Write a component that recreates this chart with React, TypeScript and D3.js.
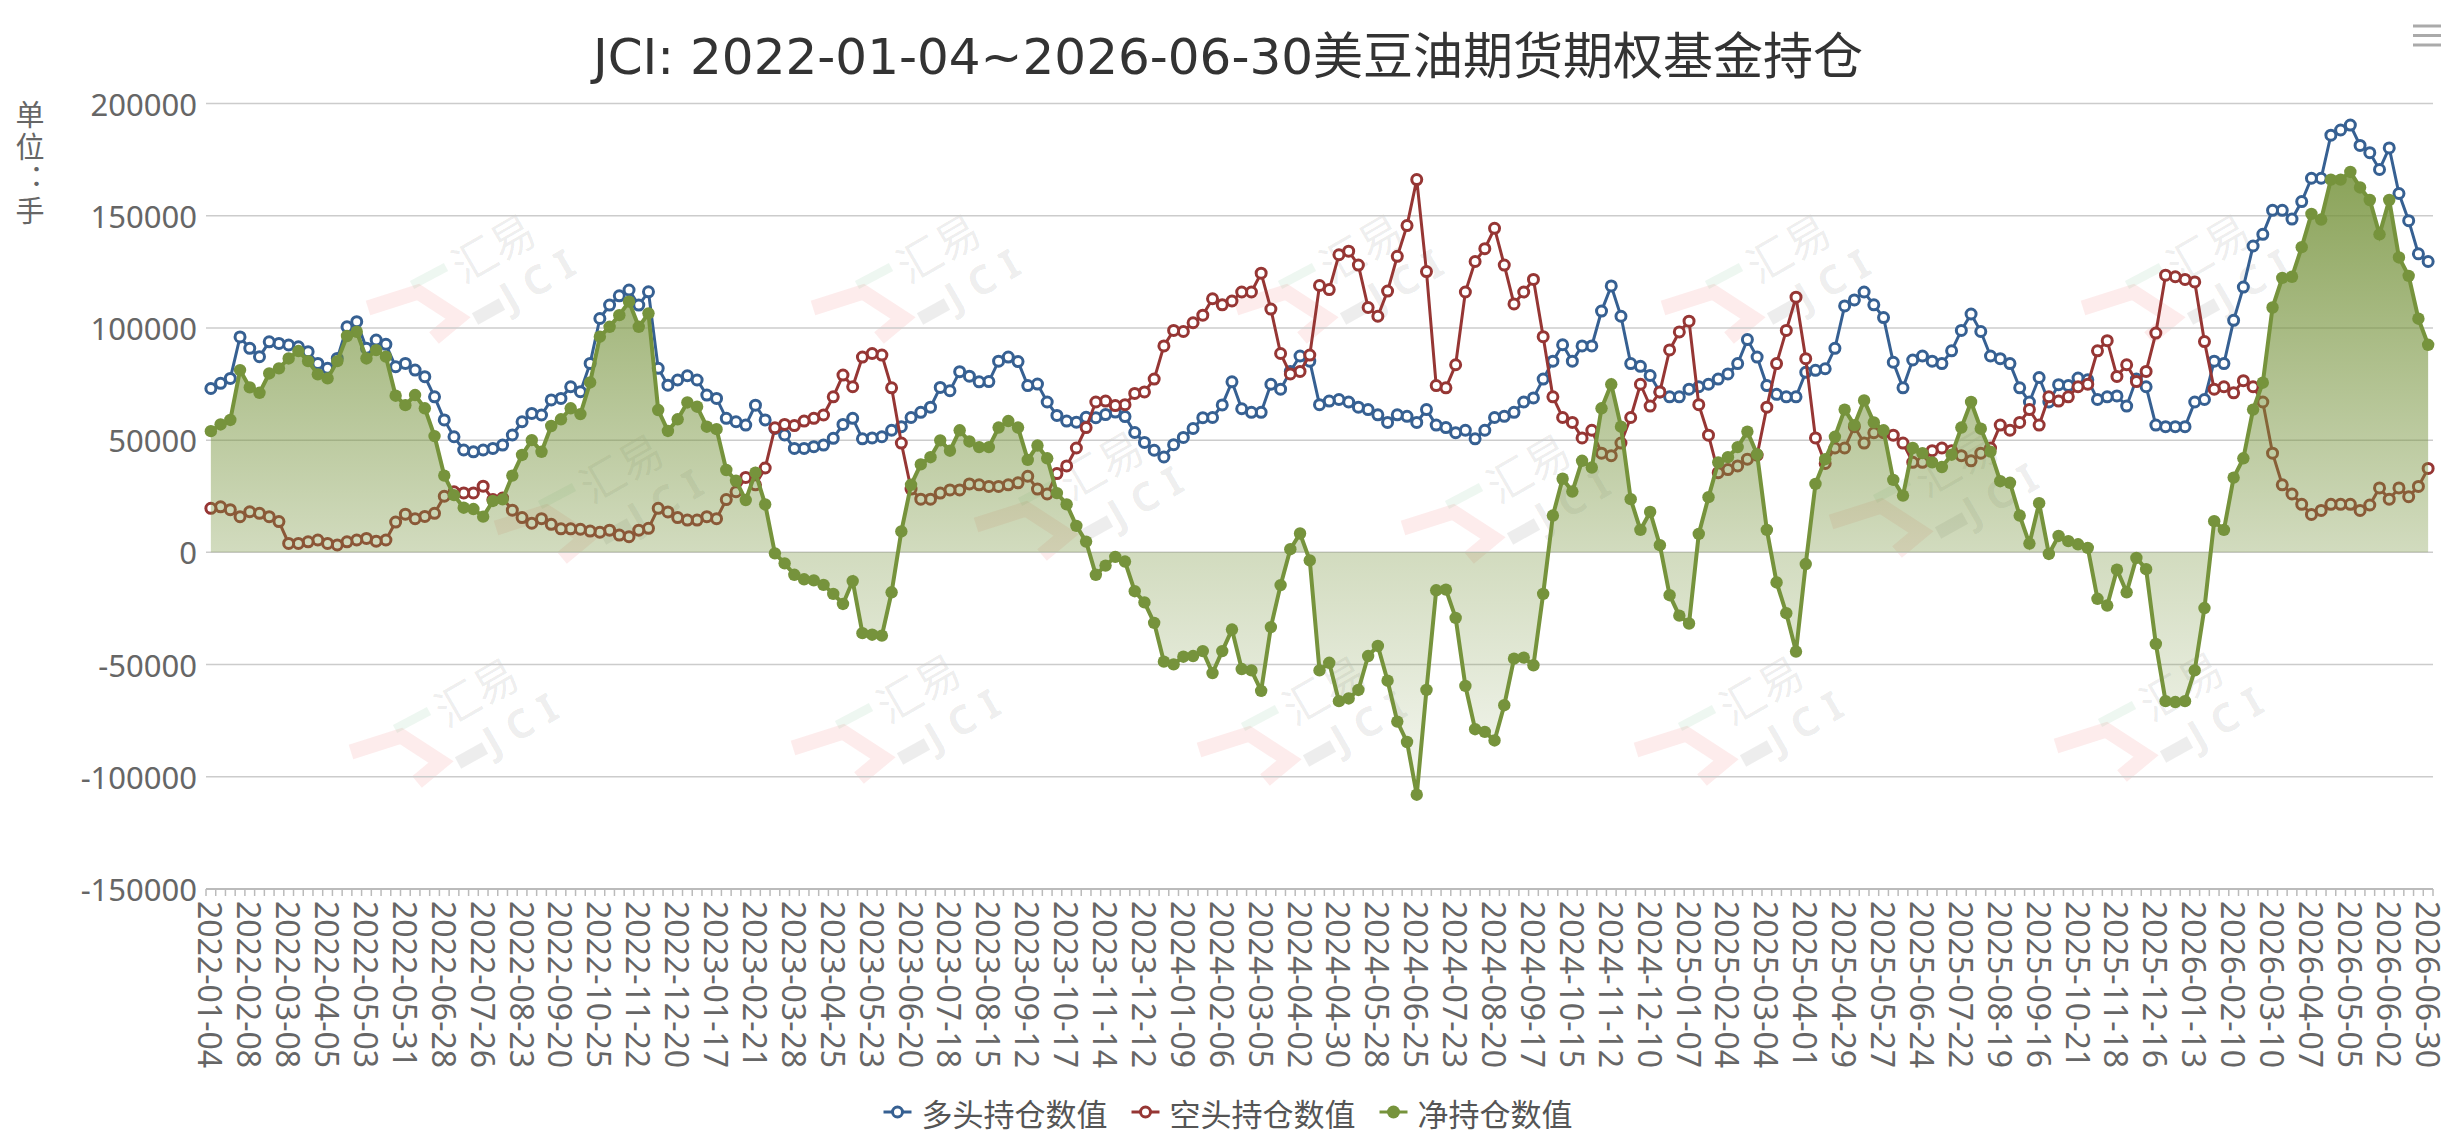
import { useEffect, useRef } from "react"
import * as d3 from "d3"

// axis labels, one every 4 weekly categories
const tickLabels = [
  "2022-01-04", "2022-02-08", "2022-03-08", "2022-04-05", "2022-05-03", "2022-05-31",
  "2022-06-28", "2022-07-26", "2022-08-23", "2022-09-20", "2022-10-25", "2022-11-22",
  "2022-12-20", "2023-01-17", "2023-02-21", "2023-03-28", "2023-04-25", "2023-05-23",
  "2023-06-20", "2023-07-18", "2023-08-15", "2023-09-12", "2023-10-17", "2023-11-14",
  "2023-12-12", "2024-01-09", "2024-02-06", "2024-03-05", "2024-04-02", "2024-04-30",
  "2024-05-28", "2024-06-25", "2024-07-23", "2024-08-20", "2024-09-17", "2024-10-15",
  "2024-11-12", "2024-12-10", "2025-01-07", "2025-02-04", "2025-03-04", "2025-04-01",
  "2025-04-29", "2025-05-27", "2025-06-24", "2025-07-22", "2025-08-19", "2025-09-16",
  "2025-10-21", "2025-11-18", "2025-12-16", "2026-01-13", "2026-02-10", "2026-03-10",
  "2026-04-07", "2026-05-05", "2026-06-02", "2026-06-30",
]

// 多头持仓数值
const longPos = [
  73000, 75300, 77500, 96000, 90900, 87200, 93800, 93100, 92400, 91600,
  89400, 84200, 82000, 86400, 100500, 102800, 90900, 94600, 92700, 82700,
  84200, 81200, 78300, 69300, 59000, 51500, 45600, 44800, 45600, 46300,
  47800, 52300, 58200, 61900, 61200, 67900, 68600, 73800, 71600, 84200,
  104200, 110200, 114300, 116900, 110200, 116100, 82000, 74500, 76800, 78700,
  76800, 70100, 68600, 59700, 58200, 56700, 65600, 59000, 55200, 52300,
  46300, 46300, 47100, 47800, 50800, 57000, 59700, 50600, 51000, 51500,
  54400, 56000, 60100, 62400, 64700, 73500, 72000, 80500, 78500, 76000,
  76100, 85200, 87000, 85000, 74300, 75000, 67000, 61000, 58500, 58000,
  60200, 60000, 61400, 62500, 60500, 53400, 49000, 45500, 42500, 48000,
  51200, 55200, 60000, 60100, 65700, 76000, 64000, 62400, 62400, 74900,
  72700, 80600, 87500, 85200, 65800, 67400, 68100, 67000, 64700, 63600,
  61300, 57900, 61300, 60600, 57900, 63600, 56700, 55600, 53300, 54400,
  50600, 54400, 60100, 60600, 62400, 67000, 68800, 77200, 85200, 92500,
  85200, 92000, 92000, 107500, 118700, 105200, 84100, 82900, 78800, 71500,
  69300, 69300, 72700, 73800, 74900, 77200, 79500, 84100, 94800, 87000,
  74300, 70400, 69300, 69300, 80200, 81100, 81800, 90900, 109800, 112500,
  116000, 110300, 104600, 84700, 73300, 85700, 87500, 85200, 84100, 89800,
  98900, 106200, 98400, 87500, 86300, 84100, 73300, 67000, 77900, 67000,
  74700, 74300, 77700, 76900, 68100, 69300, 69700, 65200, 77200, 73800,
  56700, 56000, 56000, 56000, 67000, 68100, 85200, 84100, 103400, 118200,
  136500, 141700, 152400, 152400, 148500, 156300, 166700, 166700, 185900, 188200,
  190400, 181300, 178100, 170600, 180200, 159900, 147800, 133000, 129600,
]

// 空头持仓数值
const shortPos = [
  19600, 20300, 19000, 15900, 18100, 17400, 15900, 13700, 4000, 4000,
  4700, 5500, 4000, 3300, 4700, 5500, 6200, 5000, 5500, 13500,
  17000, 15000, 16000, 17400, 25000, 27000, 26500, 26500, 29500, 23500,
  24200, 18800, 15500, 13000, 15000, 12500, 10500, 10500, 10300, 9500,
  9000, 9900, 7700, 7000, 9900, 10700, 19600, 18000, 15500, 14400,
  14400, 15900, 15000, 23500, 27000, 33400, 30100, 37600, 55500, 57000,
  56500, 58500, 59700, 61200, 69300, 79000, 73800, 87000, 88600, 87900,
  73300, 48700, 28200, 23700, 23700, 26400, 27800, 27800, 30500, 30100,
  29400, 29400, 30100, 31000, 33900, 28200, 26000, 35100, 38500, 46500,
  55600, 67000, 67400, 65400, 65800, 70800, 71500, 77200, 92000, 98900,
  98400, 102300, 105700, 113000, 110300, 112000, 116000, 116000, 124400, 108400,
  88600, 79500, 80600, 87900, 118900, 117100, 132600, 134200, 128000, 109100,
  105200, 116400, 131900, 145600, 166100, 125100, 74300, 73300, 83600, 116000,
  129600, 135300, 144400, 128000, 110700, 116000, 121600, 96100, 69300, 60100,
  57900, 51000, 54400, 44200, 43100, 48700, 60100, 74900, 65200, 71500,
  90200, 98200, 103000, 65800, 52200, 35500, 36900, 38500, 41500, 43300,
  64700, 84100, 98900, 113700, 86300, 51000, 39600, 46500, 46500, 56000,
  48700, 53300, 53300, 52200, 48700, 40100, 40100, 45300, 46500, 45300,
  43100, 40800, 44200, 46500, 56700, 54400, 57900, 63600, 56700, 69300,
  67400, 69300, 73800, 74900, 89800, 94300, 78400, 83600, 76100, 80600,
  97700, 123500, 122800, 121600, 120500, 93900, 72700, 73800, 71100, 76500,
  73800, 67000, 44200, 30100, 26000, 21400, 16900, 18700, 21400, 21400,
  21400, 18700, 21100, 28700, 23700, 28700, 24800, 29400, 37400,
]

// 净持仓数值
const netPos = [
  54000, 57000, 59000, 81200, 73500, 71100, 79700, 82000, 86400, 89700,
  85200, 79300, 77500, 85200, 96400, 98300, 86400, 90100, 87200, 69800,
  65600, 70100, 64200, 51800, 34200, 25500, 19900, 19300, 15900, 22900,
  23600, 34200, 43400, 50000, 44800, 56300, 59300, 64200, 61600, 75700,
  96100, 100500, 105700, 111700, 100500, 106500, 63400, 54100, 59300, 66800,
  64900, 56000, 54900, 36700, 31900, 23300, 35500, 21400, -450, -4900,
  -10000, -12000, -12500, -14500, -18500, -23000, -12800, -36000, -36700, -37100,
  -17800, 9300, 30100, 39200, 42400, 49900, 45300, 54400, 49400, 46900,
  46900, 55600, 58500, 55600, 41200, 47600, 41900, 26400, 21400, 11800,
  4800, -10000, -5900, -2000, -4100, -17300, -22300, -31400, -48700, -49900,
  -46500, -46200, -44000, -53800, -44000, -34400, -52000, -52600, -61700, -33300,
  -14600, 1400, 8400, -3600, -52600, -49200, -66300, -65100, -61300, -46200,
  -41700, -57200, -75400, -84500, -108000, -61300, -16900, -16600, -29200, -59500,
  -78800, -80000, -83800, -68100, -47400, -46900, -50300, -18500, 16400, 32800,
  27100, 40800, 37800, 64200, 74900, 56000, 23700, 10000, 18000, 3200,
  -19100, -28200, -31700, 8200, 24600, 40100, 42400, 46900, 53800, 43700,
  10000, -13400, -27100, -44200, -5200, 30500, 41500, 51500, 63600, 56700,
  67700, 57900, 54400, 32300, 25300, 46500, 44200, 40100, 38000, 43500,
  55600, 67000, 55100, 44900, 31700, 31000, 16400, 3900, 21900, -700,
  7300, 5000, 3600, 2000, -20700, -23700, -7700, -17800, -2500, -7500,
  -40800, -66300, -66700, -66300, -52600, -24800, 13900, 10000, 33300, 41900,
  63600, 75600, 109100, 122300, 122800, 136000, 150800, 148300, 166100, 166100,
  169500, 162600, 157000, 141700, 157000, 131400, 123200, 104100, 92500,
]

const seriesNames = ["多头持仓数值", "空头持仓数值", "净持仓数值"]
const seriesColors = ["#366092", "#963634", "#76933C"]
const yTicks = [-150000, -100000, -50000, 0, 50000, 100000, 150000, 200000]

// weekly categories between the labelled dates
const parse = d3.timeParse("%Y-%m-%d")
const fmt = d3.timeFormat("%Y-%m-%d")
const categories = tickLabels.flatMap((d, k) =>
  k === tickLabels.length - 1
    ? [d]
    : [0, 1, 2, 3].map((w) => fmt(d3.timeWeek.offset(parse(d)!, w)))
)

// watermark anchors (汇易 logo)
const watermarks = [
  [492, 246], [937, 246], [1360, 246], [1787, 246], [2207, 246],
  [620, 466], [1100, 463], [1527, 466], [1955, 460],
  [475, 690], [917, 686], [1323, 688], [1760, 688], [2180, 684],
]

const W = 2456
const H = 1141
const latin = "'Noto Sans', 'Noto Sans CJK SC', sans-serif"
const cjk = "'Noto Sans CJK SC', 'Noto Sans', sans-serif"

const App = () => {
  const ref = useRef<SVGSVGElement>(null)

  useEffect(() => {
    const svg = d3.select(ref.current)
    svg.selectAll("*").remove()

    const left = 206
    const right = 2433
    const top = 103.5
    const bottom = 889

    const x = d3.scaleBand().domain(categories).range([left, right])
    const cx = (i: number) => x(categories[i])! + x.bandwidth() / 2
    const y = d3.scaleLinear().domain([-150000, 200000]).range([bottom, top])

    // gradient for the net area
    const yMax = d3.max(netPos)!
    const yMin = d3.min(netPos)!
    const zeroOff = (y(0) - y(yMax)) / (y(yMin) - y(yMax))
    const grad = svg
      .append("defs")
      .append("linearGradient")
      .attr("id", "netFill")
      .attr("gradientUnits", "userSpaceOnUse")
      .attr("x1", 0)
      .attr("x2", 0)
      .attr("y1", y(yMax))
      .attr("y2", y(yMin))
    grad.append("stop").attr("offset", 0).attr("stop-color", "#76933C").attr("stop-opacity", 0.85)
    grad.append("stop").attr("offset", zeroOff).attr("stop-color", "#76933C").attr("stop-opacity", 0.33)
    grad.append("stop").attr("offset", 1).attr("stop-color", "#76933C").attr("stop-opacity", 0.07)

    // watermark
    const wm = svg
      .append("g")
      .selectAll("g")
      .data(watermarks)
      .enter()
      .append("g")
      .attr("transform", (d) => `translate(${d[0]},${d[1]})`)
    wm.append("path")
      .attr("d", "M-124,62 L-74,46 L-34,72 L-58,92")
      .attr("fill", "none")
      .attr("stroke", "rgba(240,70,70,0.1)")
      .attr("stroke-width", 15)
    wm.append("line")
      .attr("x1", -80).attr("y1", 39).attr("x2", -46).attr("y2", 21)
      .attr("stroke", "rgba(40,150,80,0.08)")
      .attr("stroke-width", 9)
    wm.append("line")
      .attr("x1", -17).attr("y1", 73).attr("x2", 10).attr("y2", 58)
      .attr("stroke", "rgba(0,0,0,0.07)")
      .attr("stroke-width", 13)
    wm.append("text")
      .attr("transform", "rotate(-30)")
      .attr("text-anchor", "middle")
      .attr("dominant-baseline", "central")
      .attr("font-family", cjk)
      .attr("font-size", 44)
      .attr("fill", "rgba(0,0,0,0.08)")
      .text("汇易")
    wm.append("text")
      .attr("transform", "translate(50,30) rotate(-30)")
      .attr("text-anchor", "middle")
      .attr("dominant-baseline", "central")
      .attr("font-family", latin)
      .attr("font-size", 40)
      .attr("font-weight", "bold")
      .attr("letter-spacing", 12)
      .attr("fill", "rgba(0,0,0,0.08)")
      .text("JCI")

    // grid lines
    svg
      .append("g")
      .selectAll("line")
      .data(yTicks)
      .enter()
      .append("line")
      .attr("x1", left)
      .attr("x2", right)
      .attr("y1", (d) => y(d))
      .attr("y2", (d) => y(d))
      .attr("stroke", (d) => (d === -150000 ? "#bbb" : "#ccc"))
      .attr("stroke-width", (d) => (d === -150000 ? 2 : 1.5))

    // y axis labels
    svg
      .append("g")
      .selectAll("text")
      .data(yTicks)
      .enter()
      .append("text")
      .attr("x", 197)
      .attr("y", (d) => y(d))
      .attr("text-anchor", "end")
      .attr("dominant-baseline", "central")
      .attr("font-family", latin)
      .attr("font-size", 31)
      .attr("fill", "#666")
      .text((d) => d)

    // y axis name, written vertically
    svg
      .append("text")
      .attr("x", 30)
      .attr("y", 100)
      .attr("writing-mode", "vertical-rl")
      .style("text-orientation", "upright")
      .attr("font-family", cjk)
      .attr("font-size", 29)
      .attr("letter-spacing", 3)
      .attr("fill", "#666")
      .text("单位：手")

    // x axis ticks and labels
    svg
      .append("g")
      .selectAll("line")
      .data(d3.range(categories.length + 1))
      .enter()
      .append("line")
      .attr("x1", (i) => left + i * x.bandwidth())
      .attr("x2", (i) => left + i * x.bandwidth())
      .attr("y1", bottom)
      .attr("y2", bottom + 7)
      .attr("stroke", "#bbb")
      .attr("stroke-width", 1.5)

    svg
      .append("g")
      .selectAll("text")
      .data(categories.map((c, i) => ({ c, i })).filter((d) => d.i % 4 === 0))
      .enter()
      .append("text")
      .attr("transform", (d) => `translate(${cx(d.i)},${bottom + 12}) rotate(90)`)
      .attr("text-anchor", "start")
      .attr("dominant-baseline", "central")
      .attr("font-family", latin)
      .attr("font-size", 32)
      .attr("fill", "#666")
      .text((d) => d.c)

    // series
    const line = d3
      .line<number>()
      .x((d, i) => cx(i))
      .y((d) => y(d))

    const drawRingSeries = (data: number[], color: string) => {
      svg
        .append("path")
        .datum(data)
        .attr("d", line)
        .attr("fill", "none")
        .attr("stroke", color)
        .attr("stroke-width", 3)
      // earlier points sit on top of later ones
      svg
        .append("g")
        .selectAll("circle")
        .data(data.map((v, i) => ({ v, i })).reverse())
        .enter()
        .append("circle")
        .attr("cx", (d) => cx(d.i))
        .attr("cy", (d) => y(d.v))
        .attr("r", 5)
        .attr("fill", "#fff")
        .attr("stroke", color)
        .attr("stroke-width", 3)
    }
    drawRingSeries(longPos, seriesColors[0])
    drawRingSeries(shortPos, seriesColors[1])

    const area = d3
      .area<number>()
      .x((d, i) => cx(i))
      .y0(y(0))
      .y1((d) => y(d))
    svg.append("path").datum(netPos).attr("d", area).attr("fill", "url(#netFill)")
    svg
      .append("path")
      .datum(netPos)
      .attr("d", line)
      .attr("fill", "none")
      .attr("stroke", seriesColors[2])
      .attr("stroke-width", 4)
    svg
      .append("g")
      .selectAll("circle")
      .data(netPos.map((v, i) => ({ v, i })).reverse())
      .enter()
      .append("circle")
      .attr("cx", (d) => cx(d.i))
      .attr("cy", (d) => y(d.v))
      .attr("r", 6.2)
      .attr("fill", seriesColors[2])

    // title
    svg
      .append("text")
      .attr("x", W / 2)
      .attr("y", 57)
      .attr("text-anchor", "middle")
      .attr("dominant-baseline", "central")
      .attr("font-family", "'DejaVu Sans', 'Noto Sans CJK SC', sans-serif")
      .attr("font-size", 50)
      .attr("fill", "#333")
      .text("JCI: 2022-01-04~2026-06-30美豆油期货期权基金持仓")

    // toolbox icon
    svg
      .append("g")
      .selectAll("line")
      .data([26, 35.5, 45])
      .enter()
      .append("line")
      .attr("x1", 2413)
      .attr("x2", 2441)
      .attr("y1", (d) => d)
      .attr("y2", (d) => d)
      .attr("stroke", "#aaa")
      .attr("stroke-width", 3)

    // legend
    const fontSize = 31
    const iconW = 28
    const gap = 10
    const itemGap = 24
    const widths = seriesNames.map((n) => iconW + gap + n.length * fontSize)
    const total = d3.sum(widths) + itemGap * (widths.length - 1)
    let lx = W / 2 - total / 2
    const ly = 1112
    seriesNames.forEach((name, k) => {
      const g = svg.append("g").attr("transform", `translate(${lx},${ly})`)
      g.append("line")
        .attr("x1", 0)
        .attr("x2", iconW)
        .attr("stroke", seriesColors[k])
        .attr("stroke-width", 3)
      if (k < 2) {
        g.append("circle")
          .attr("cx", iconW / 2)
          .attr("r", 5)
          .attr("fill", "#fff")
          .attr("stroke", seriesColors[k])
          .attr("stroke-width", 3)
      } else {
        g.append("circle").attr("cx", iconW / 2).attr("r", 6.5).attr("fill", seriesColors[k])
      }
      g.append("text")
        .attr("x", iconW + gap)
        .attr("dominant-baseline", "central")
        .attr("font-family", cjk)
        .attr("font-size", fontSize)
        .attr("fill", "#555")
        .text(name)
      lx += widths[k] + itemGap
    })
  }, [])

  return (
    <svg
      ref={ref}
      width={W}
      height={H}
      style={{ position: "absolute", left: 0, top: 0, background: "#fff" }}
    />
  )
}

export default App
